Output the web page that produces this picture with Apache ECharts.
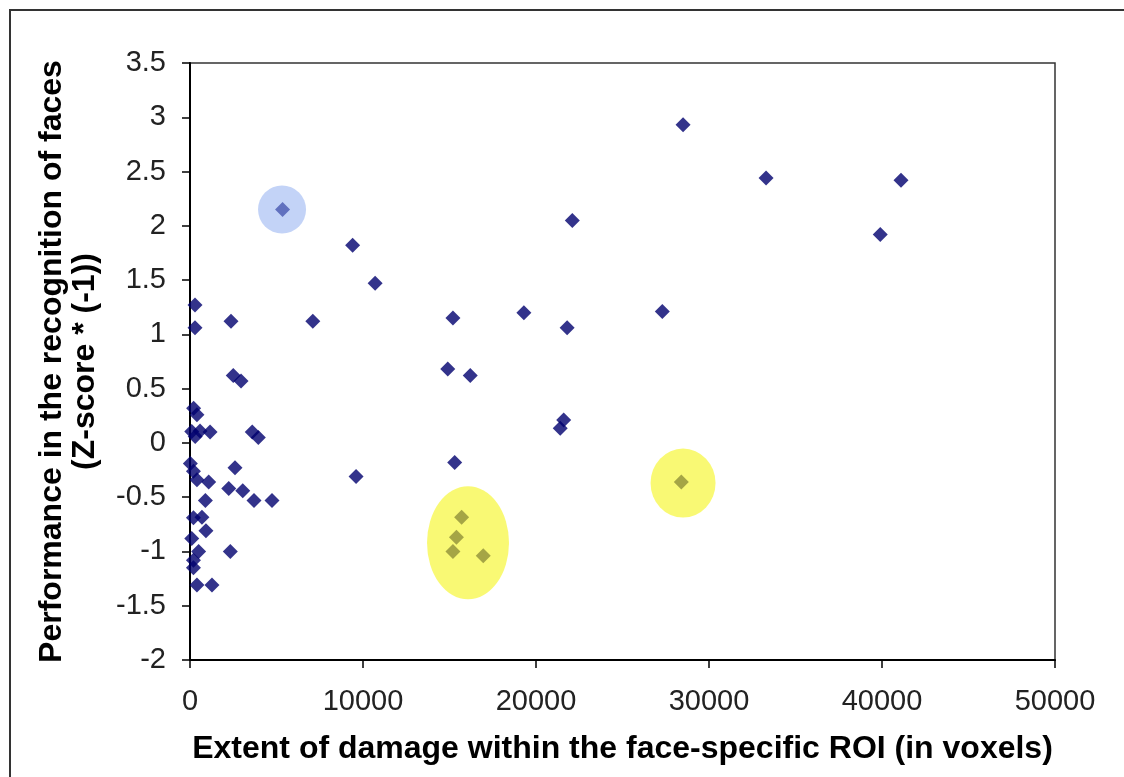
<!DOCTYPE html>
<html>
<head>
<meta charset="utf-8">
<script src="https://cdn.jsdelivr.net/npm/echarts@6/dist/echarts.min.js"></script>
<style>html,body{margin:0;padding:0;background:#fff;}#c{width:1124px;height:777px;}</style>
</head>
<body>
<div id="c"></div>
<script>
// Extent of damage (voxels), performance (Z-score * -1)
var damage = [290,290,2370,7100,2500,2950,210,400,100,580,1160,3600,3950,300,
  20,200,2600,400,1080,2240,3050,3700,4740,890,
  200,690,920,100,500,2330,200,200,400,1270,
  5350,9400,10700,22100,19300,15200,21800,14900,16200,21600,21400,15300,9600,
  15700,15400,15200,16950,
  28500,33300,41100,39900,27300,28400];
var performance = [1.27,1.06,1.12,1.12,0.62,0.57,0.32,0.26,0.105,0.11,0.10,0.10,0.05,0.06,
  -0.19,-0.26,-0.23,-0.34,-0.36,-0.42,-0.44,-0.53,-0.53,-0.53,
  -0.69,-0.685,-0.81,-0.88,-1.0,-1.0,-1.08,-1.15,-1.31,-1.31,
  2.15,1.82,1.47,2.05,1.2,1.15,1.06,0.68,0.62,0.21,0.135,-0.18,-0.31,
  -0.685,-0.87,-1.0,-1.04,
  2.93,2.44,2.42,1.92,1.21,-0.36];
// highlight centres
var blueHighlight = [[5320, 2.15]];
var yellowHighlights = [[16070, -0.92], [28500, -0.37]];
var xTicks = [0, 10000, 20000, 30000, 40000, 50000];
var yTicks = [-2, -1.5, -1, -0.5, 0, 0.5, 1, 1.5, 2, 2.5, 3, 3.5];

var points = damage.map(function(d, i){ return [d, performance[i]]; });
var font = 'Liberation Sans, Arial, sans-serif';
var chart = echarts.init(document.getElementById('c'));
chart.setOption({
  animation: false,
  backgroundColor: '#fff',
  graphic: [{type:'rect', shape:{x:10,y:10,width:1200,height:900}, style:{fill:'none', stroke:'#333', lineWidth:2}, z:0}],
  grid: {left:190, right:69, top:63, bottom:117, show:true, borderColor:'#333', borderWidth:1.5},
  xAxis: {
    type:'value', min:xTicks[0], max:xTicks[xTicks.length-1], interval:10000,
    name:'Extent of damage within the face-specific ROI (in voxels)',
    nameLocation:'middle', nameGap:73,
    nameTextStyle:{fontFamily:font, fontWeight:'bold', fontSize:32, color:'#000'},
    axisLine:{show:true, onZero:false, lineStyle:{color:'#000', width:2}},
    axisTick:{show:true, length:8, lineStyle:{color:'#000', width:1.5}},
    axisLabel:{fontFamily:font, fontSize:29, color:'#222', margin:27, formatter:function(v){return String(v);}},
    splitLine:{show:false}
  },
  yAxis: {
    type:'value', min:yTicks[0], max:yTicks[yTicks.length-1], interval:0.5,
    name:'Performance in the recognition of faces\n(Z-score * (-1))',
    nameLocation:'middle', nameGap:88, nameRotate:90,
    nameTextStyle:{fontFamily:font, fontWeight:'bold', fontSize:32, lineHeight:33, color:'#000'},
    axisLine:{show:true, onZero:false, lineStyle:{color:'#000', width:2}},
    axisTick:{show:true, length:8, lineStyle:{color:'#000', width:1.5}},
    axisLabel:{fontFamily:font, fontSize:29, color:'#222', margin:24},
    splitLine:{show:false}
  },
  series: [
    {type:'scatter', data:points, symbol:'diamond', symbolSize:15, itemStyle:{color:'#00006e'}, z:2},
    {type:'scatter', data:blueHighlight, symbol:'circle', symbolSize:[48,48], itemStyle:{color:'rgba(140,170,240,0.65)'}, z:3, silent:true},
    {type:'scatter', data:[yellowHighlights[0]], symbol:'circle', symbolSize:[82,113], itemStyle:{color:'rgba(245,245,20,0.74)'}, z:3, silent:true},
    {type:'scatter', data:[yellowHighlights[1]], symbol:'circle', symbolSize:[65,69], itemStyle:{color:'rgba(245,245,20,0.74)'}, z:3, silent:true}
  ]
});
</script>
</body>
</html>
